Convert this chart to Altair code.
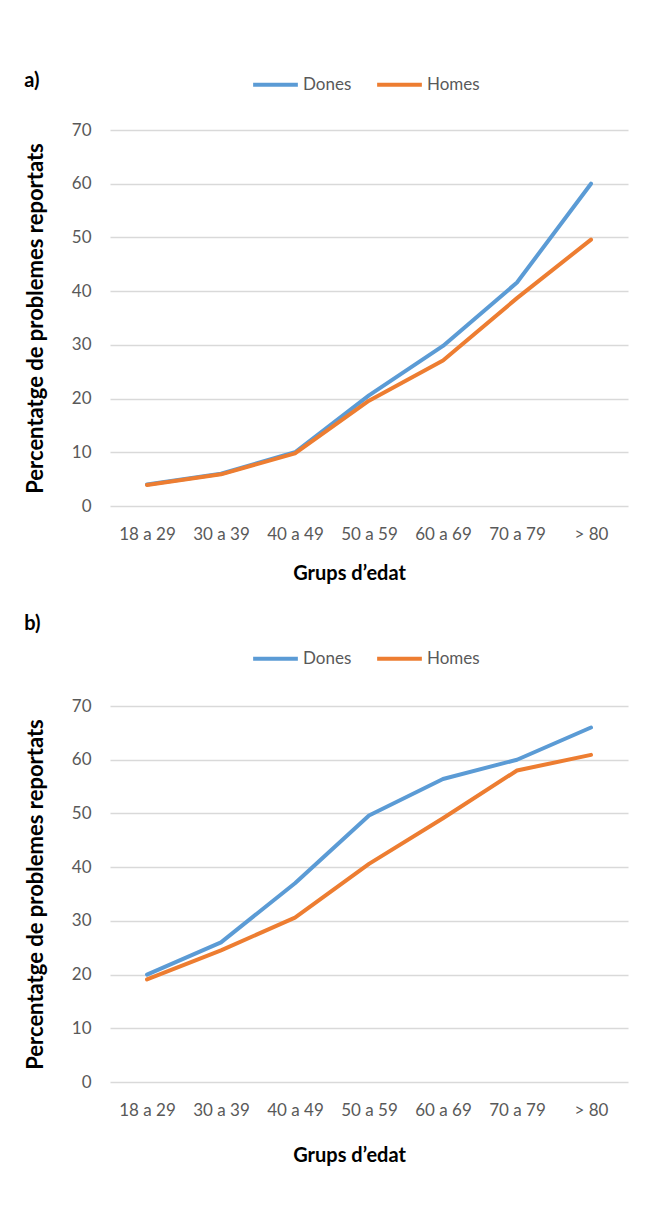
import altair as alt
import pandas as pd

grups = ["18 a 29", "30 a 39", "40 a 49", "50 a 59", "60 a 69", "70 a 79", "> 80"]
sexes = ["Dones", "Homes"]
colors = ["#5B9BD5", "#ED7D31"]

dones_a = [4.0, 6.0, 10.0, 20.6, 29.8, 41.6, 60.0]
homes_a = [3.9, 5.9, 9.8, 19.6, 27.1, 38.7, 49.6]

dones_b = [20.0, 26.0, 37.0, 49.6, 56.4, 60.0, 66.0]
homes_b = [19.1, 24.5, 30.6, 40.6, 49.1, 58.0, 60.9]

y_ticks = [0, 10, 20, 30, 40, 50, 60, 70]

GRAY = "#595959"
FONT = "Lato"


def make_df(dones, homes):
    rows = []
    for g, d, h in zip(grups, dones, homes):
        rows.append({"grup": g, "sexe": "Dones", "valor": d})
        rows.append({"grup": g, "sexe": "Homes", "valor": h})
    return pd.DataFrame(rows)


def panel(dones, homes, label, legend_y, title_offset, title_dy, x_title_pad):
    df = make_df(dones, homes)
    return (
        alt.Chart(df)
        .mark_line(strokeWidth=4, strokeCap="round", strokeJoin="round")
        .encode(
            x=alt.X(
                "grup:N",
                sort=grups,
                scale=alt.Scale(type="point", padding=0.5),
                axis=alt.Axis(
                    title="Grups d’edat",
                    labelAngle=0,
                    labelPadding=20,
                    titlePadding=x_title_pad,
                    titleX=239,
                    titleAlign="center",
                    ticks=False,
                    domain=False,
                    grid=False,
                    labelFont=FONT,
                    labelFontSize=17,
                    labelColor=GRAY,
                    titleFont=FONT,
                    titleFontSize=20,
                    titleFontWeight="bold",
                    titleColor="black",
                ),
            ),
            y=alt.Y(
                "valor:Q",
                scale=alt.Scale(domain=[0, 70], nice=False),
                axis=alt.Axis(
                    title="Percentatge de problemes reportats",
                    values=y_ticks,
                    labelPadding=19,
                    titlePadding=24,
                    ticks=False,
                    domain=False,
                    grid=True,
                    gridColor="#D9D9D9",
                    gridWidth=1.3,
                    labelFont=FONT,
                    labelFontSize=17,
                    labelColor=GRAY,
                    titleFont=FONT,
                    titleFontSize=22,
                    titleFontWeight="bold",
                    titleColor="black",
                ),
            ),
            color=alt.Color(
                "sexe:N",
                scale=alt.Scale(domain=sexes, range=colors),
                legend=alt.Legend(
                    title=None,
                    orient="none",
                    direction="horizontal",
                    legendX=141,
                    legendY=legend_y,
                    symbolType="stroke",
                    symbolSize=2000,
                    symbolStrokeWidth=4,
                    labelOffset=3,
                    columnPadding=17,
                    labelFont=FONT,
                    labelFontSize=17,
                    labelColor=GRAY,
                ),
            ),
        )
        .properties(
            width=518,
            height=376,
            title=alt.TitleParams(
                text=label,
                anchor="start",
                frame="bounds",
                font=FONT,
                fontSize=20,
                fontWeight="bold",
                color="black",
                offset=title_offset,
                dy=title_dy,
            ),
        )
    )


chart_a = panel(dones_a, homes_a, "a)", -70, 0, 31, 21)
chart_b = panel(dones_b, homes_b, "b)", -72, 0, 0, 27)

chart = (
    alt.vconcat(chart_a, chart_b, spacing=31)
    .resolve_scale(color="independent")
    .resolve_legend(color="independent")
    .properties(
        padding={"left": 16, "top": 52, "right": 5, "bottom": 5},
        background="white",
    )
    .configure_view(stroke=None)
)

chart.save("out.html", embed_options={"renderer": "svg", "actions": False})
